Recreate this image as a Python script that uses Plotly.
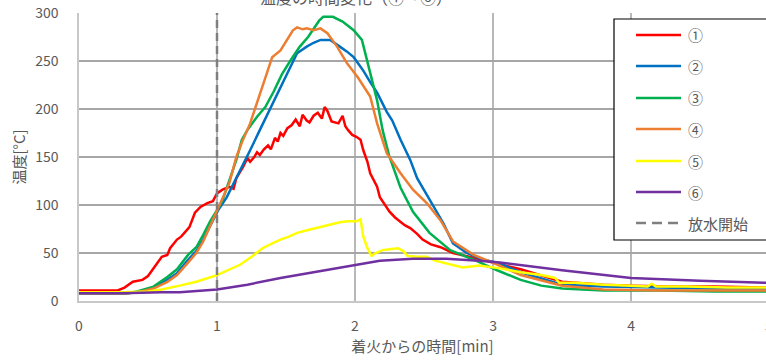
import plotly.graph_objects as go

# ---------------- data ----------------
t1 = [0, 0.1, 0.2, 0.28, 0.33, 0.39, 0.46, 0.50, 0.53, 0.57, 0.60, 0.64, 0.66, 0.71, 0.74, 0.77, 0.80, 0.84,
      0.88, 0.93, 0.97, 1.00, 1.04, 1.09, 1.12, 1.14, 1.17, 1.19, 1.22, 1.24, 1.27, 1.29, 1.31, 1.34, 1.37,
      1.39, 1.42, 1.44, 1.46, 1.48, 1.51, 1.54, 1.57, 1.60, 1.62, 1.65, 1.67, 1.70, 1.73, 1.76, 1.78, 1.80,
      1.83, 1.86, 1.88, 1.91, 1.93, 1.95, 1.98, 2.01, 2.04, 2.06, 2.09, 2.11, 2.16, 2.18, 2.22, 2.25, 2.29,
      2.33, 2.36, 2.40, 2.45, 2.49, 2.55, 2.62, 2.71, 2.86, 3.0, 3.2, 3.5, 3.8, 4.0, 4.3, 4.6, 4.98]
T1 = [11, 11, 11, 11, 14, 20, 22, 26, 32, 40, 46, 48, 55, 64, 67, 72, 77, 92,
      98, 102, 104, 112, 116, 119, 117, 128, 135, 140, 149, 145, 150, 155, 152, 158, 162,
      158, 170, 166, 175, 172, 180, 183, 189, 182, 194, 188, 186, 193, 196, 190, 202, 198,
      187, 186, 185, 193, 182, 178, 173, 171, 168, 157, 145, 133, 119, 108, 100, 93, 87,
      82, 79, 76, 70, 64, 59, 56, 50, 45, 40, 33, 20, 17, 16, 15, 15, 14]

t2 = [0, 0.2, 0.35, 0.42, 0.54, 0.64, 0.71, 0.79, 0.85, 0.90, 0.95, 1.01, 1.07, 1.12, 1.17, 1.24, 1.31,
      1.38, 1.46, 1.52, 1.58, 1.65, 1.70, 1.75, 1.82, 1.89, 1.94, 1.99, 2.06, 2.11, 2.16, 2.23, 2.27,
      2.33, 2.40, 2.45, 2.54, 2.64, 2.71, 2.81, 2.93, 3.03, 3.2, 3.5, 3.8, 4.2, 4.6, 4.98]
T2 = [8, 8, 8, 9, 14, 22, 29, 43, 52, 64, 78, 95, 108, 122, 136, 157, 178,
      199, 223, 240, 258, 265, 269, 272, 272, 265, 260, 254, 240, 228, 217, 197, 188,
      168, 147, 128, 105, 81, 60, 50, 43, 40, 30, 17, 15, 14, 13, 13]

t3 = [0, 0.2, 0.35, 0.42, 0.54, 0.64, 0.71, 0.79, 0.85, 0.90, 0.95, 1.01, 1.04, 1.09, 1.14, 1.18, 1.22,
      1.29, 1.35, 1.41, 1.47, 1.53, 1.60, 1.66, 1.70, 1.74, 1.77, 1.84, 1.91, 1.99, 2.05, 2.09, 2.13,
      2.16, 2.20, 2.25, 2.33, 2.42, 2.54, 2.69, 2.86, 3.03, 3.2, 3.35, 3.5, 3.8, 4.2, 4.6, 4.98]
T3 = [8, 8, 8, 10, 15, 25, 33, 48, 56, 69, 83, 97, 105, 126, 147, 168, 178,
      192, 202, 218, 236, 250, 265, 275, 283, 292, 296, 296, 291, 282, 272, 250, 225,
      209, 178, 150, 118, 93, 71, 53, 43, 32, 22, 16, 13, 11, 11, 10, 10]

t4 = [0, 0.2, 0.35, 0.42, 0.54, 0.64, 0.71, 0.79, 0.85, 0.90, 0.95, 1.01, 1.05, 1.09, 1.14, 1.18, 1.24,
      1.28, 1.31, 1.36, 1.40, 1.46, 1.51, 1.55, 1.58, 1.62, 1.65, 1.70, 1.75, 1.80, 1.87, 1.94, 2.02,
      2.11, 2.16, 2.23, 2.33, 2.42, 2.52, 2.62, 2.71, 2.86, 3.03, 3.2, 3.5, 3.8, 4.2, 4.6, 4.98]
T4 = [8, 8, 8, 9, 13, 20, 27, 40, 50, 62, 78, 97, 110, 123, 150, 165, 185,
      202, 216, 238, 254, 261, 272, 282, 285, 283, 284, 282, 284, 279, 265, 248, 233,
      213, 185, 154, 133, 116, 102, 84, 62, 48, 38, 27, 16, 12, 11, 11, 11]

t5 = [0, 0.3, 0.5, 0.6, 0.73, 0.85, 1.0, 1.09, 1.17, 1.25, 1.33, 1.40, 1.46, 1.52, 1.58, 1.66, 1.75,
      1.82, 1.89, 1.95, 2.01, 2.04, 2.06, 2.09, 2.12, 2.15, 2.20, 2.25, 2.31, 2.35, 2.38, 2.45, 2.52,
      2.58, 2.66, 2.78, 2.90, 3.05, 3.2, 3.35, 3.45, 3.48, 3.6, 3.8, 4.0, 4.12, 4.15, 4.18, 4.4, 4.7, 4.98]
T5 = [9, 9, 10, 12, 16, 20, 27, 33, 38, 46, 55, 60, 64, 67, 71, 74, 77,
      79, 82, 83, 83, 85, 67, 55, 47, 50, 53, 54, 55, 52, 47, 46, 46,
      42, 39, 35, 37, 34, 30, 27, 24, 19, 19, 17, 16, 15, 18, 15, 15, 14, 14]

t6 = [0, 0.3, 0.6, 0.73, 1.0, 1.22, 1.46, 1.70, 1.94, 2.18, 2.42, 2.66, 2.9, 3.05, 3.5, 4.0, 4.5, 4.98]
T6 = [8, 8, 9, 9, 12, 17, 24, 30, 36, 42, 44, 44, 42, 40, 32, 24, 21, 19]

series_names = ["①", "②", "③", "④", "⑤", "⑥"]
series_colors = ["#ff0000", "#0070c0", "#00b050", "#ed7d31", "#ffff00", "#7030a0"]
water_start_time = 1.0
water_label = "放水開始"
title_text = "温度の時間変化（①～⑥）"
x_title = "着火からの時間[min]"
y_title = "温度[°C]"
x_ticks = [0, 1, 2, 3, 4]
y_ticks = [0, 50, 100, 150, 200, 250, 300]

# ---------------- figure ----------------
W, H = 766, 361
ML, MT, MB = 79, 13, 60
PW = W - ML
PH = H - MT - MB
FONT = "Noto Sans CJK JP"
TXT = "#595959"


def px_x(px):
    return (px - ML) / PW


def px_y(py):
    return (MT + PH - py) / PH


fig = go.Figure()
xs = [t1, t2, t3, t4, t5, t6]
ys = [T1, T2, T3, T4, T5, T6]
for name, col, x, y in zip(series_names, series_colors, xs, ys):
    fig.add_trace(go.Scatter(x=x, y=y, mode="lines", name=name,
                             line=dict(color=col, width=2.5), showlegend=False))

fig.add_trace(go.Scatter(x=[water_start_time, water_start_time], y=[y_ticks[0], y_ticks[-1]],
                         mode="lines", name=water_label,
                         line=dict(color="#7f7f7f", width=2.5, dash="8px,5px"), showlegend=False))

shapes = []
annotations = []
# legend box
shapes.append(dict(type="rect", xref="paper", yref="paper",
                   x0=px_x(614), x1=px_x(775), y0=px_y(240), y1=px_y(19),
                   fillcolor="white", line=dict(color="black", width=1.2), layer="above"))
rows = [35, 66, 98, 129, 161, 192, 223]
labels = series_names + [water_label]
cols = series_colors + ["#7f7f7f"]
for i, (py, lab, col) in enumerate(zip(rows, labels, cols)):
    shapes.append(dict(type="line", xref="paper", yref="paper",
                       x0=px_x(636), x1=px_x(681), y0=px_y(py), y1=px_y(py),
                       line=dict(color=col, width=2.5, dash="10px,6px" if i == 6 else "solid"),
                       layer="above"))
    annotations.append(dict(text=lab, xref="paper", yref="paper", x=px_x(686), y=px_y(py),
                            xanchor="left", yanchor="middle", showarrow=False,
                            font=dict(family=FONT, size=15, color=TXT)))

# title (partly cut off at the top, as in the reference)
annotations.append(dict(text=title_text, xref="paper", yref="paper", x=px_x(356), y=px_y(-3),
                        xanchor="center", yanchor="middle", showarrow=False,
                        font=dict(family=FONT, size=16, color=TXT)))
# cut-off tick label "5" at right edge
annotations.append(dict(text="5", xref="paper", yref="paper", x=px_x(769), y=px_y(325),
                        xanchor="center", yanchor="middle", showarrow=False,
                        font=dict(family=FONT, size=14, color=TXT)))

fig.update_layout(
    width=W, height=H,
    margin=dict(l=ML, r=0, t=MT, b=MB, pad=0),
    paper_bgcolor="white", plot_bgcolor="white",
    font=dict(family=FONT, color=TXT),
    shapes=shapes, annotations=annotations,
    showlegend=False,
)
fig.update_xaxes(range=[0, 4.978], tickvals=x_ticks, ticktext=[str(v) for v in x_ticks],
                 showgrid=True, gridcolor="#b8b8b8", gridwidth=1.5,
                 showline=True, linecolor="#c8c8c8", linewidth=2,
                 zeroline=False, ticks="", ticklabelstandoff=11,
                 tickfont=dict(family=FONT, size=14, color=TXT),
                 title=dict(text=x_title, font=dict(family=FONT, size=15, color=TXT), standoff=6))
fig.update_yaxes(range=[0, 300], tickvals=y_ticks,
                 showgrid=True, gridcolor="#a6a6a6", gridwidth=1.5,
                 showline=True, linecolor="#c8c8c8", linewidth=1.5,
                 zeroline=False, ticks="", ticklabelstandoff=16,
                 tickfont=dict(family=FONT, size=14, color=TXT),
                 title=dict(text=y_title, font=dict(family=FONT, size=15, color=TXT), standoff=6))

fig.write_html("out.html", config={"displayModeBar": False},
               post_script="document.body.style.margin='0';document.body.style.overflow='hidden';")
